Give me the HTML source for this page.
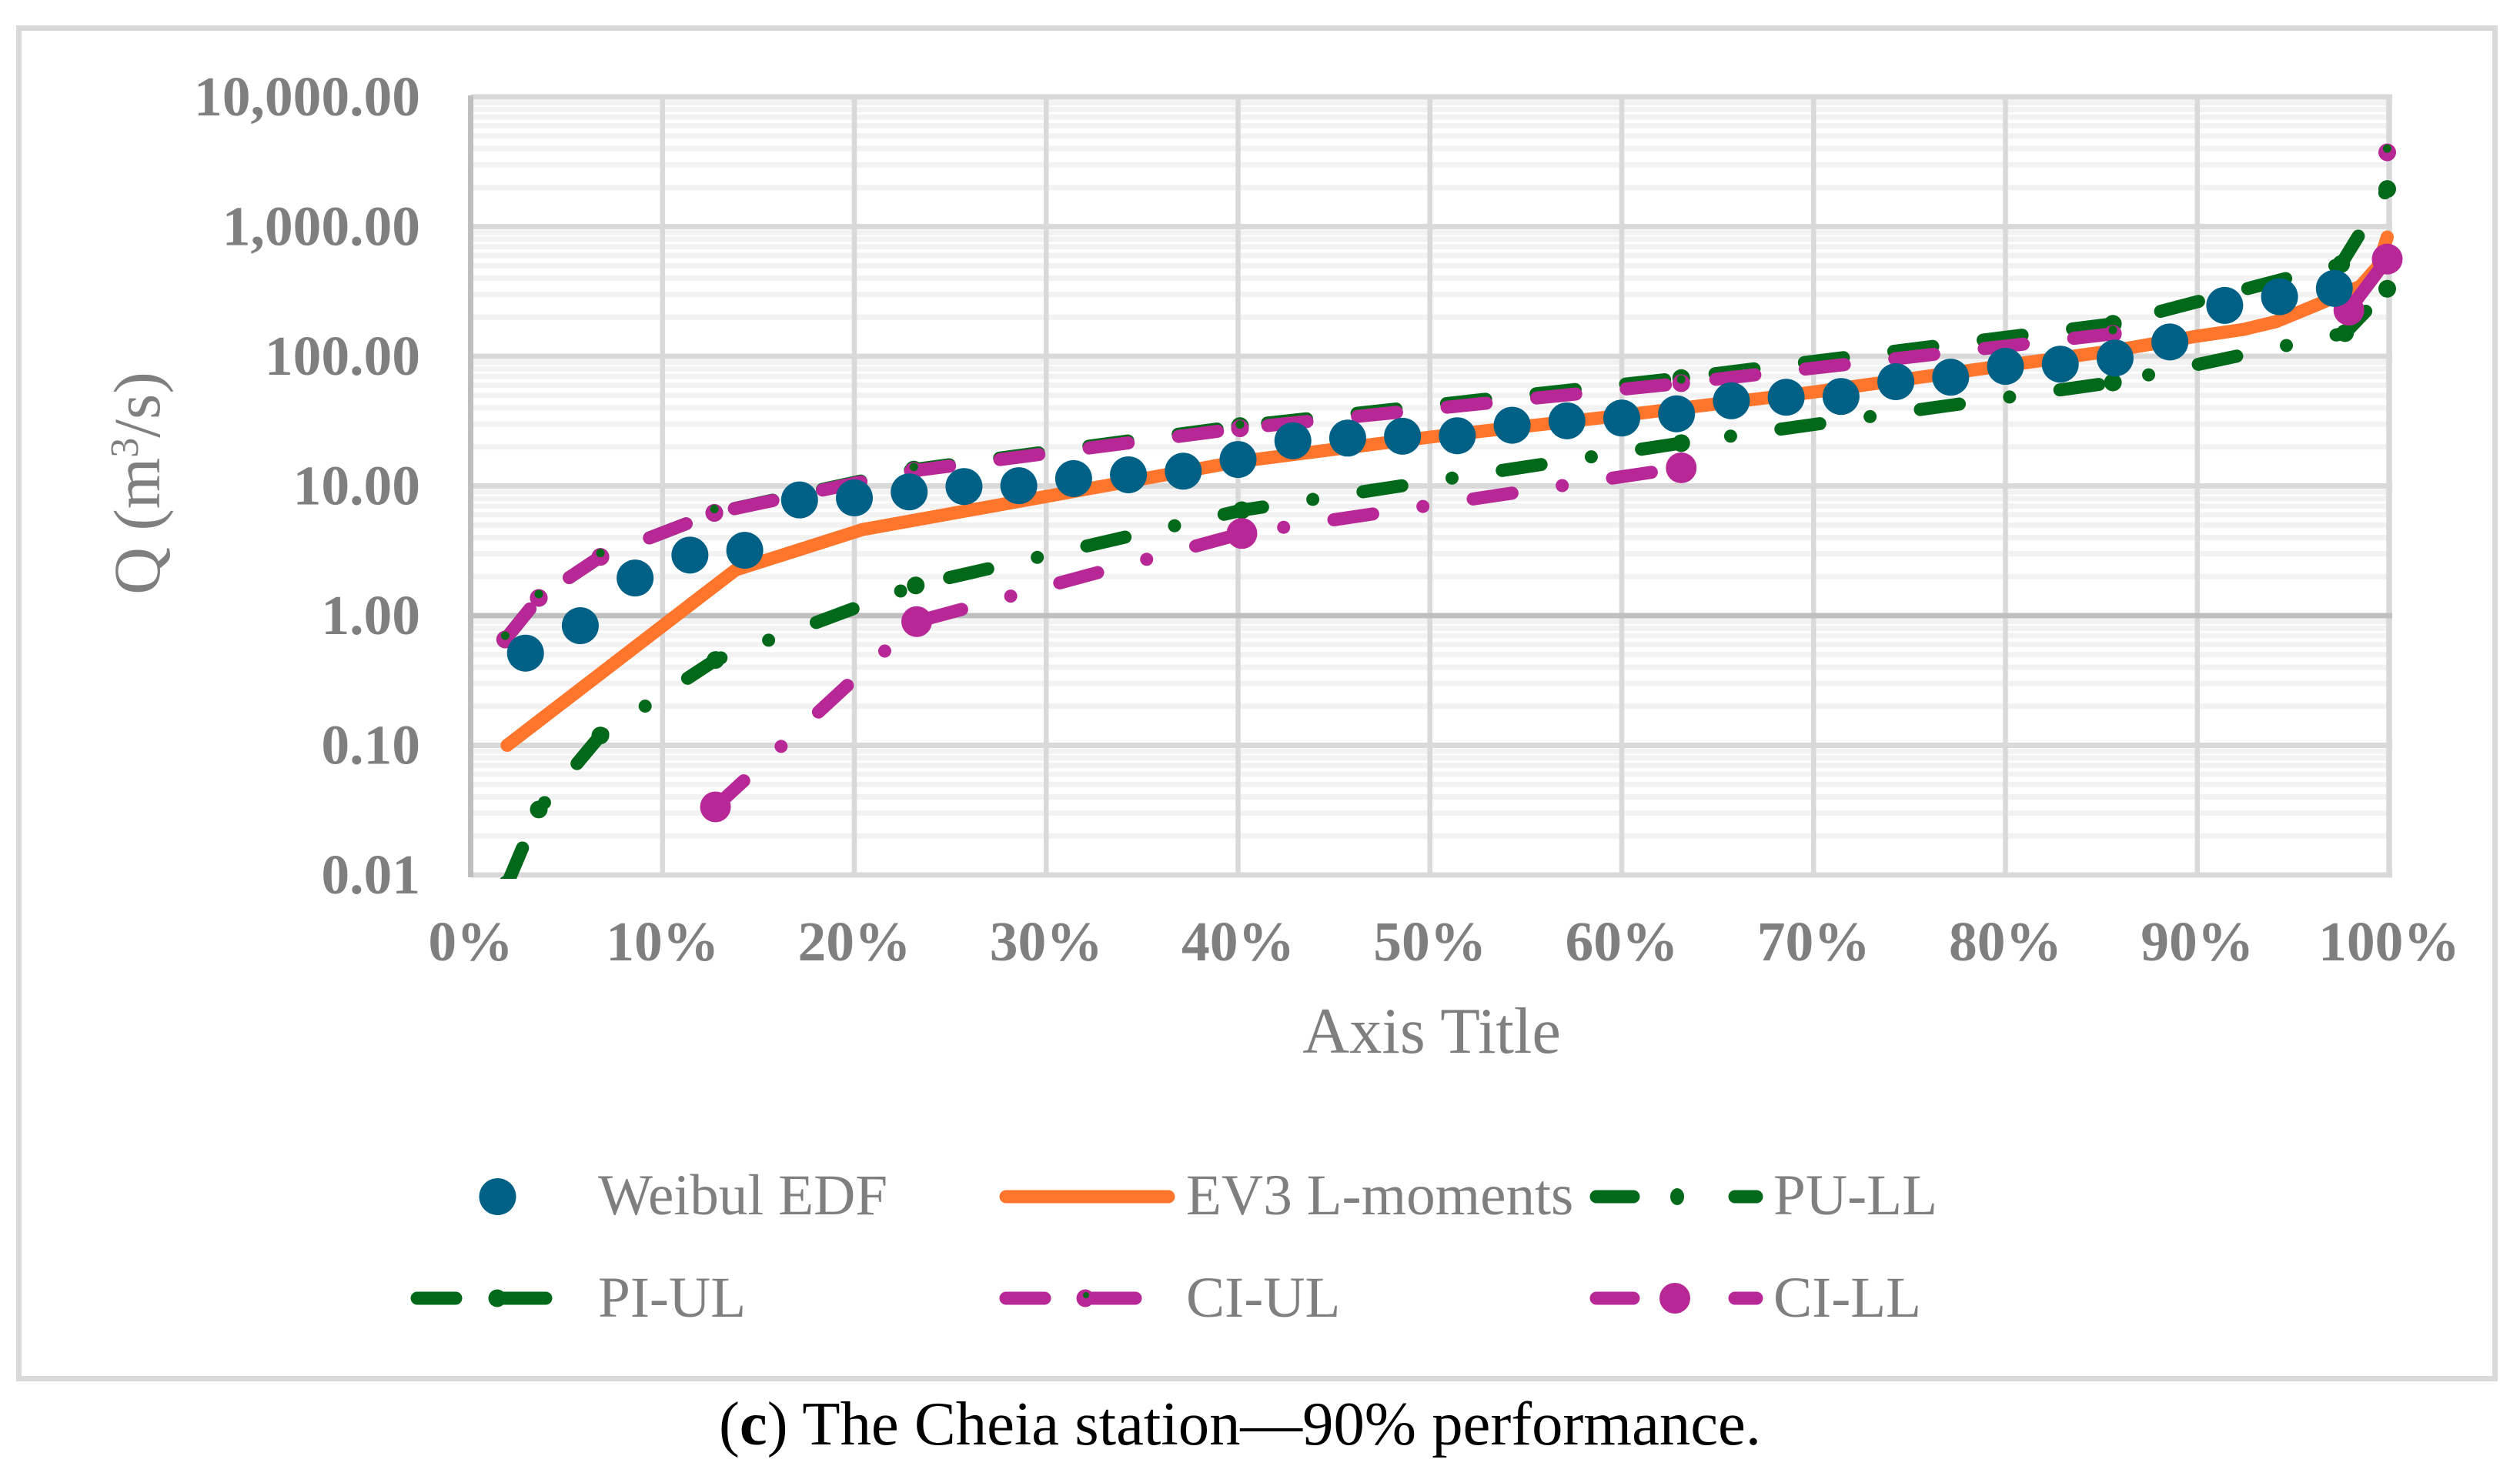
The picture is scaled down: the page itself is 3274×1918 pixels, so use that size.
<!DOCTYPE html>
<html lang="en">
<head>
<meta charset="utf-8">
<title>The Cheia station - 90% performance</title>
<style>
html,body{margin:0;padding:0;background:#fff;width:3274px;height:1918px;overflow:hidden}
svg{display:block}
text{font-family:"Liberation Serif",serif}
.tick{font-weight:bold;font-size:73.5px;fill:#7f7f7f}
.legend{font-size:75.2px;fill:#7f7f7f}
</style>
</head>
<body>
<svg id="chart" xmlns="http://www.w3.org/2000/svg" width="3274" height="1918" viewBox="0 0 3274 1918">
  <rect x="24.5" y="36.5" width="3217" height="1755" fill="#fff" stroke="#d9d9d9" stroke-width="7"/>
  <defs><clipPath id="plot-clip"><rect x="600" y="60" width="2600" height="1082"/></clipPath></defs>
  <g id="grid"></g>
  <g id="series" clip-path="url(#plot-clip)"></g>
  <g id="ticks"></g>
  <text transform="translate(207,628) rotate(-90)" text-anchor="middle" font-size="85.5" fill="#7f7f7f">Q (m<tspan font-size="52" dy="-28">3</tspan><tspan dy="28">/s)</tspan></text>
  <text x="1860" y="1368" text-anchor="middle" font-size="84.5" fill="#7f7f7f">Axis Title</text>

  <g>
    <g>
      <circle cx="646.5" cy="1555" r="24" fill="#006085"/>
      <text class="legend" x="777" y="1578">Weibul EDF</text>
    </g>
    <g>
      <line x1="1307" y1="1555" x2="1518" y2="1555" stroke="#ff752b" stroke-width="17" stroke-linecap="round"/>
      <text class="legend" x="1541" y="1578">EV3 L-moments</text>
    </g>
    <g>
      <line x1="2074" y1="1555" x2="2122" y2="1555" stroke="#03691a" stroke-width="17" stroke-linecap="round"/>
      <ellipse cx="2179" cy="1555" rx="9" ry="11" fill="#03691a"/>
      <line x1="2254" y1="1555" x2="2282" y2="1555" stroke="#03691a" stroke-width="17" stroke-linecap="round"/>
      <text class="legend" x="2304" y="1578">PU-LL</text>
    </g>
    <g>
      <line x1="542" y1="1687" x2="592" y2="1687" stroke="#03691a" stroke-width="17" stroke-linecap="round"/>
      <circle cx="646" cy="1687" r="11.5" fill="#03691a"/>
      <line x1="650" y1="1687" x2="709" y2="1687" stroke="#03691a" stroke-width="17" stroke-linecap="round"/>
      <text class="legend" x="777" y="1711">PI-UL</text>
    </g>
    <g>
      <line x1="1307" y1="1687" x2="1357" y2="1687" stroke="#b72796" stroke-width="17" stroke-linecap="round"/>
      <circle cx="1410" cy="1687" r="11.5" fill="#b72796"/>
      <line x1="1420" y1="1687" x2="1475" y2="1687" stroke="#b72796" stroke-width="17" stroke-linecap="round"/>
      <circle cx="1411" cy="1683" r="4" fill="#03691a"/>
      <text class="legend" x="1541" y="1711">CI-UL</text>
    </g>
    <g>
      <line x1="2074" y1="1687" x2="2122" y2="1687" stroke="#b72796" stroke-width="17" stroke-linecap="round"/>
      <circle cx="2176" cy="1687" r="20" fill="#b72796"/>
      <line x1="2254" y1="1687" x2="2282" y2="1687" stroke="#b72796" stroke-width="17" stroke-linecap="round"/>
      <text class="legend" x="2304" y="1711">CI-LL</text>
    </g>
  </g>

  <text x="934" y="1877" font-size="80.7" fill="#000">(<tspan font-weight="bold">c</tspan>) The Cheia station—90% performance.</text>
</svg>
<script>
// Axis tick labels and values
const yTickValues = [10000, 1000, 100, 10, 1, 0.1, 0.01];
const yTickLabels = ['10,000.00', '1,000.00', '100.00', '10.00', '1.00', '0.10', '0.01'];
const xTickValues = [0, 10, 20, 30, 40, 50, 60, 70, 80, 90, 100];
const xTickLabels = ['0%', '10%', '20%', '30%', '40%', '50%', '60%', '70%', '80%', '90%', '100%'];
const minorMultiples = [2, 3, 4, 5, 6, 7, 8, 9];

// Weibul EDF
const weibullX = [2.857, 5.714, 8.571, 11.429, 14.286, 17.143, 20, 22.857, 25.714, 28.571, 31.429, 34.286, 37.143, 40, 42.857, 45.714, 48.571, 51.429, 54.286, 57.143, 60, 62.857, 65.714, 68.571, 71.429, 74.286, 77.143, 80, 82.857, 85.714, 88.571, 91.429, 94.286, 97.143];
const weibullQ = [0.514, 0.837, 1.95, 2.93, 3.19, 7.8, 8.09, 9.0, 9.9, 10.05, 11.4, 12.2, 13.0, 16, 22.3, 23.4, 24.2, 24.4, 29.4, 31.8, 33.4, 36, 45.4, 48.3, 49, 63.7, 69, 83.7, 87, 97, 129, 247, 288, 334];

// EV3 L-moments
const ev3X = [1.9, 13.8, 20.4, 30, 40, 50, 60, 70, 80, 85.7, 90, 92.4, 94.1, 96.3, 98.5, 99.4, 99.9];
const ev3Q = [0.1, 2.25, 4.6, 8.3, 15.4, 23.8, 35, 53, 85, 111, 143, 161, 185, 252, 347, 490, 830];

// Prediction limits
const puLlX = [1.9, 3.55, 6.76, 12.76, 23.2, 40.2, 63.1, 85.6, 97.7, 99.9];
const puLlQ = [0.0085, 0.032, 0.119, 0.455, 1.71, 6.5, 21.4, 62.8, 151, 332];
const piUlX = [1.8, 3.55, 6.76, 12.7, 23.1, 40.1, 63.1, 85.6, 97.5, 99.9];
const piUlQ = [0.655, 1.37, 2.84, 6.2, 13.4, 29, 68, 178, 515, 1950];

// Confidence limits
const ciUlX = [1.8, 3.55, 6.76, 12.7, 23.1, 40.1, 63.1, 85.6];
const ciUlQ = [0.655, 1.37, 2.84, 6.2, 13.1, 27.8, 62, 149];
const ciUlEndX = [99.9];
const ciUlEndQ = [3740];
const ciLlX = [12.76, 23.25, 40.2, 63.1];
const ciLlQ = [0.0335, 0.9, 4.3, 13.8];
const ciLlEndX = [97.9, 99.9];
const ciLlEndQ = [227, 562];

const SVG_NS = 'http://www.w3.org/2000/svg';
const X0 = 611.5, X_SPAN = 2492.5, Y_ONE = 800, DECADE = 168.5;
function xScale(p) { return X0 + p / 100 * X_SPAN; }
function yScale(v) { return Y_ONE - Math.log10(v) * DECADE; }

function make(parent, tag, attrs) {
  const node = document.createElementNS(SVG_NS, tag);
  for (const k in attrs) node.setAttribute(k, attrs[k]);
  parent.appendChild(node);
  return node;
}
function pathFor(xs, ys) {
  return xs.map(function (p, i) { return xScale(p).toFixed(1) + ',' + yScale(ys[i]).toFixed(1); }).join(' ');
}

const grid = document.getElementById('grid');
const seriesLayer = document.getElementById('series');
const tickLayer = document.getElementById('ticks');

// Minor horizontal gridlines
yTickValues.forEach(function (v) {
  if (v === 10000) return;
  minorMultiples.forEach(function (m) {
    const el = make(grid, 'line', { x1: xScale(0), x2: xScale(100), y1: yScale(v * m), y2: yScale(v * m), stroke: '#f2f2f2', 'stroke-width': 7 });
    
    
  });
});
// Vertical gridlines
xTickValues.forEach(function (p) {
  if (p === 0) return;
  const el = make(grid, 'line', { x1: xScale(p), x2: xScale(p), y1: yScale(10000), y2: yScale(0.01) + 3, stroke: '#d9d9d9', 'stroke-width': p === 100 ? 7.5 : 6.5 });
  
  
});
// Major horizontal gridlines
yTickValues.forEach(function (v) {
  const el = make(grid, 'line', { x1: xScale(0), x2: xScale(100) + 4, y1: yScale(v), y2: yScale(v), stroke: v === 1 ? '#bfbfbf' : '#d9d9d9', 'stroke-width': 7 });
  
  
});
// Y axis line
const yAxisLine = make(grid, 'line', { x1: xScale(0), x2: xScale(0), y1: yScale(10000) - 2, y2: yScale(0.01) + 3, stroke: '#bfbfbf', 'stroke-width': 7 });



// Tick labels
yTickValues.forEach(function (v, i) {
  const el = make(tickLayer, 'text', { x: 546, y: yScale(v) + 24, 'text-anchor': 'end', class: 'tick' });
  el.textContent = yTickLabels[i];
  
  
});
xTickValues.forEach(function (p, i) {
  const el = make(tickLayer, 'text', { x: xScale(p), y: 1248, 'text-anchor': 'middle', class: 'tick' });
  el.textContent = xTickLabels[i];
  
  
});

const GREEN = '#03691a', MAGENTA = '#b72796', ORANGE = '#ff752b', BLUE = '#006085';
const LONG_DASH = '51 66', DASH_DOT = '51 66 0 66';

// EV3 line
const ev3Line = make(seriesLayer, 'polyline', { points: pathFor(ev3X, ev3Q), fill: 'none', stroke: ORANGE, 'stroke-width': 17, 'stroke-linecap': 'round', 'stroke-linejoin': 'round' });



// PI-UL
const piUlLine = make(seriesLayer, 'polyline', { points: pathFor(piUlX, piUlQ), fill: 'none', stroke: GREEN, 'stroke-width': 17, 'stroke-linecap': 'round', 'stroke-dasharray': LONG_DASH, 'stroke-dashoffset': 0 });


piUlX.forEach(function (p, i) {
  const el = make(seriesLayer, 'circle', { cx: xScale(p), cy: yScale(piUlQ[i]), r: 11.5, fill: GREEN });
  
  
});

// PU-LL
const puLlLine = make(seriesLayer, 'polyline', { points: pathFor(puLlX, puLlQ), fill: 'none', stroke: GREEN, 'stroke-width': 17, 'stroke-linecap': 'round', 'stroke-dasharray': DASH_DOT, 'stroke-dashoffset': 0 });


puLlX.forEach(function (p, i) {
  const el = make(seriesLayer, 'circle', { cx: xScale(p), cy: yScale(puLlQ[i]), r: 11.5, fill: GREEN });
  
  
});

// CI-UL
const ciUlLine = make(seriesLayer, 'polyline', { points: pathFor(ciUlX, ciUlQ), fill: 'none', stroke: MAGENTA, 'stroke-width': 17, 'stroke-linecap': 'round', 'stroke-dasharray': LONG_DASH, 'stroke-dashoffset': 0 });


ciUlX.concat(ciUlEndX).forEach(function (p, i) {
  const q = ciUlQ.concat(ciUlEndQ)[i];
  const el = make(seriesLayer, 'circle', { cx: xScale(p), cy: yScale(q), r: 11.5, fill: MAGENTA });
  
  
  const speck = make(seriesLayer, 'circle', { cx: xScale(p), cy: yScale(q) - 5, r: 5.5, fill: GREEN });
  
  
});

// CI-LL
const ciLlLine = make(seriesLayer, 'polyline', { points: pathFor(ciLlX, ciLlQ), fill: 'none', stroke: MAGENTA, 'stroke-width': 17, 'stroke-linecap': 'round', 'stroke-dasharray': DASH_DOT, 'stroke-dashoffset': 1 });


const ciLlEndLine = make(seriesLayer, 'polyline', { points: pathFor(ciLlEndX, ciLlEndQ), fill: 'none', stroke: MAGENTA, 'stroke-width': 17, 'stroke-linecap': 'round', 'stroke-dasharray': '75 66' });


ciLlX.concat(ciLlEndX).forEach(function (p, i) {
  const q = ciLlQ.concat(ciLlEndQ)[i];
  const el = make(seriesLayer, 'circle', { cx: xScale(p), cy: yScale(q), r: 20, fill: MAGENTA });
  
  
});

// Weibul EDF points (top layer)
weibullX.forEach(function (p, i) {
  const el = make(seriesLayer, 'circle', { cx: xScale(p), cy: yScale(weibullQ[i]), r: 24, fill: BLUE });
  
  
});
</script>
</body>
</html>
